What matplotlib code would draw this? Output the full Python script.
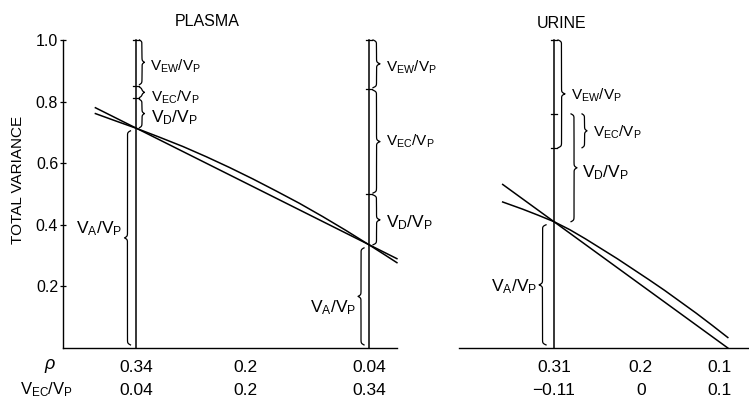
import numpy as np
import matplotlib
matplotlib.use("Agg")
import matplotlib.pyplot as plt

plt.rcParams['font.family'] = ['Liberation Sans', 'DejaVu Sans']
plt.rcParams['mathtext.fontset'] = 'custom'
plt.rcParams['mathtext.rm'] = 'Liberation Sans'
plt.rcParams['mathtext.it'] = 'Liberation Sans:italic'
plt.rcParams['mathtext.bf'] = 'Liberation Sans:bold'

# ---------------- data ----------------
# PLASMA
plasma_straight_rho = [0.393, 0.004]
plasma_straight_v = [0.780, 0.290]
plasma_curve_rho = [0.393, 0.37, 0.34, 0.31, 0.28, 0.25, 0.22, 0.19, 0.16, 0.13, 0.10, 0.07, 0.04, 0.02, 0.004]
plasma_curve_v = [0.761, 0.740, 0.713, 0.684, 0.654, 0.621, 0.586, 0.549, 0.510, 0.470, 0.427, 0.382, 0.335,
                  0.303, 0.277]
plasma_marks_rho = [0.34, 0.04]
plasma_VA_top = [0.705, 0.325]     # top of V_A/V_P brace
plasma_VD_top = [0.81, 0.50]       # top of V_D/V_P
plasma_VEC_top = [0.85, 0.84]      # top of V_EC/V_P
plasma_ticks = [0.34, 0.2, 0.04]
plasma_ticklabels = ['0.34', '0.2', '0.04']
plasma_vec_labels = ['0.04', '0.2', '0.34']

# URINE
urine_straight_rho = [0.375, 0.090]
urine_straight_v = [0.531, 0.0]
urine_curve_rho = [0.375, 0.35, 0.33, 0.31, 0.29, 0.27, 0.25, 0.23, 0.21, 0.19, 0.17, 0.15, 0.13, 0.11, 0.09]
urine_curve_v = [0.474, 0.451, 0.431, 0.410, 0.384, 0.354, 0.322, 0.290, 0.256, 0.222, 0.187, 0.150, 0.113,
                 0.074, 0.034]
urine_mark_rho = 0.31
urine_VA_top = 0.40
urine_VD_top = 0.76
urine_VEC_bottom = 0.65
urine_ticks = [0.31, 0.2, 0.1]
urine_ticklabels = ['0.31', '0.2', '0.1']
urine_vec_labels = ['\u22120.11', '0', '0.1']

total_top = 1.0

# ---------------- figure ----------------
W, H = 749, 403
fig = plt.figure(figsize=(W / 100, H / 100), dpi=100)


def px_rect(x0, x1, ytop, ybot):
    return [x0 / W, 1 - ybot / H, (x1 - x0) / W, (ybot - ytop) / H]


YTOP_LIM = 1.02
ax1 = fig.add_axes(px_rect(63, 397, 33.8, 348))
ax2 = fig.add_axes(px_rect(459, 749, 33.8, 348))
ax1.set_xlim(0.4348, 0.0039)
ax2.set_xlim(0.4303, 0.0632)
for ax in (ax1, ax2):
    ax.set_ylim(0, YTOP_LIM)
    ax.patch.set_visible(False)
    ax.spines['top'].set_visible(False)
    ax.spines['right'].set_visible(False)
    ax.spines['bottom'].set_linewidth(1.0)

ax1.spines['left'].set_bounds(0, 1.0)
ax1.spines['left'].set_linewidth(1.0)
ax1.set_yticks([0.2, 0.4, 0.6, 0.8, 1.0])
ax1.set_yticklabels(['0.2', '0.4', '0.6', '0.8', '1.0'])
ax1.tick_params(axis='y', direction='inout', length=5, width=0.9, pad=1, labelsize=11.5)
ax2.spines['left'].set_visible(False)
ax2.set_yticks([])

ax1.set_xticks(plasma_ticks)
ax1.set_xticklabels(plasma_ticklabels)
ax2.set_xticks(urine_ticks)
ax2.set_xticklabels(urine_ticklabels)
for ax in (ax1, ax2):
    ax.tick_params(axis='x', length=0, pad=9, labelsize=12.5)

for x, s in zip(plasma_ticks, plasma_vec_labels):
    ax1.text(x, -0.134, s, transform=ax1.get_xaxis_transform(), ha='center', va='center', fontsize=12.5)
for x, s in zip(urine_ticks, urine_vec_labels):
    ax2.text(x, -0.134, s, transform=ax2.get_xaxis_transform(), ha='center', va='center', fontsize=12.5)

fig.text(50 / W, 1 - 366 / H, r'$\rho$', ha='center', va='center', fontsize=13)
fig.text(46 / W, 1 - 390 / H, r'$\mathrm{V_{EC}/V_P}$', ha='center', va='center', fontsize=12)
fig.text(207 / W, 1 - 21 / H, 'PLASMA', ha='center', va='center', fontsize=11.5)
fig.text(562 / W, 1 - 23 / H, 'URINE', ha='center', va='center', fontsize=11.5)
fig.text(18 / W, 1 - 180 / H, 'TOTAL VARIANCE', ha='center', va='center', rotation=90, fontsize=11)

LW = 1.1
ax1.plot(plasma_straight_rho, plasma_straight_v, color='black', lw=LW, clip_on=False)
ax1.plot(plasma_curve_rho, plasma_curve_v, color='black', lw=LW, clip_on=False)
ax2.plot(urine_straight_rho, urine_straight_v, color='black', lw=LW, clip_on=False)
ax2.plot(urine_curve_rho, urine_curve_v, color='black', lw=LW, clip_on=False)


# ---------------- helpers for braces ----------------
def brace(ax, x, y0, y1, side=1, gap=3, width=7, lw=0.9):
    disp = ax.transData.transform([(x, y0), (x, y1)])
    xd = disp[0, 0] + side * gap
    yd0, yd1 = disp[0, 1], disp[1, 1]
    L = abs(yd1 - yd0)
    s = np.linspace(0, L / 2, 150)
    b = 1.3
    half = 1 / (1 + np.exp(-b * s)) + 1 / (1 + np.exp(-b * (s - s[-1])))
    prof = np.concatenate([half, half[-2::-1]]) - 0.5
    ys = np.linspace(yd0, yd1, len(prof))
    xs = xd + side * width * prof
    pts = ax.transData.inverted().transform(np.column_stack([xs, ys]))
    ax.plot(pts[:, 0], pts[:, 1], color='black', lw=lw, clip_on=False)
    tip = ax.transData.inverted().transform([(xd + side * width, (yd0 + yd1) / 2)])[0]
    return tip


def label_at(ax, tipx, y, s, side=1, gap=5, size=11):
    d = ax.transData.transform([(tipx, y)])[0]
    xd = d[0] + side * gap
    x = ax.transData.inverted().transform([(xd, d[1])])[0][0]
    ax.text(x, y, s, ha='left' if side > 0 else 'right', va='center', fontsize=size)


def tickbars(ax, x, ys, half=3):
    for y in ys:
        d = ax.transData.transform([(x, y)])[0]
        pts = ax.transData.inverted().transform([(d[0] - half, d[1]), (d[0] + half, d[1])])
        ax.plot(pts[:, 0], pts[:, 1], color='black', lw=0.9, clip_on=False)


lab_EW = r'$\mathrm{V_{EW}/V_P}$'
lab_EC = r'$\mathrm{V_{EC}/V_P}$'
lab_D = r'$\mathrm{V_D/V_P}$'
lab_A = r'$\mathrm{V_A/V_P}$'
S_BIG = 12.5
S_SMALL = 11

# PLASMA vertical lines with braces
gaps_right = [3, 4]
for i, x in enumerate(plasma_marks_rho):
    ax1.plot([x, x], [0, total_top], color='black', lw=LW, clip_on=False)
    tickbars(ax1, x, [total_top, plasma_VEC_top[i], plasma_VD_top[i]])
    g = gaps_right[i]
    w = 5 if i == 0 else 7
    t = brace(ax1, x, plasma_VEC_top[i] + 0.005, total_top, 1, g, w)
    label_at(ax1, t[0], (plasma_VEC_top[i] + total_top) / 2 - 0.01, lab_EW, 1, 6, S_SMALL)
    t = brace(ax1, x, plasma_VD_top[i] + 0.003, plasma_VEC_top[i] - 0.003, 1, g, w)
    label_at(ax1, t[0], (plasma_VD_top[i] + plasma_VEC_top[i]) / 2 - (0.015 if i == 0 else 0), lab_EC, 1,
             7 if i == 0 else 6, S_SMALL)
    t = brace(ax1, x, plasma_VA_top[i] + 0.01, plasma_VD_top[i] - 0.003, 1, g, w)
    label_at(ax1, t[0], (plasma_VA_top[i] + plasma_VD_top[i]) / 2 - (0.01 if i == 0 else 0.005), lab_D, 1,
             7 if i == 0 else 6, S_BIG)
    t = brace(ax1, x, 0.01, plasma_VA_top[i], -1, 6 if i == 0 else 5, 6)
    label_at(ax1, t[0], plasma_VA_top[i] / 2 + (0.035 if i == 0 else -0.03), lab_A, -1, 2, S_BIG)

# URINE vertical line with braces
xu = urine_mark_rho
ax2.plot([xu, xu], [0, total_top], color='black', lw=LW, clip_on=False)
tickbars(ax2, xu, [total_top, urine_VD_top, urine_VEC_bottom])
t = brace(ax2, xu, urine_VEC_bottom, total_top, 1, 4, 7)
label_at(ax2, t[0], (urine_VEC_bottom + total_top) / 2 - 0.005, lab_EW, 1, 6, S_SMALL)
t = brace(ax2, xu, urine_VA_top + 0.01, urine_VD_top, 1, 17, 6)
label_at(ax2, t[0], (urine_VA_top + urine_VD_top) / 2 - 0.01, lab_D, 1, 5, S_BIG)
t = brace(ax2, xu, urine_VEC_bottom, urine_VD_top, 1, 28, 5)
label_at(ax2, t[0], (urine_VEC_bottom + urine_VD_top) / 2 - 0.005, lab_EC, 1, 6, S_SMALL)
t = brace(ax2, xu, 0.01, urine_VA_top, -1, 8, 7)
label_at(ax2, t[0], urine_VA_top / 2, lab_A, -1, 2, S_BIG)

fig.savefig('out.png', dpi=100)
